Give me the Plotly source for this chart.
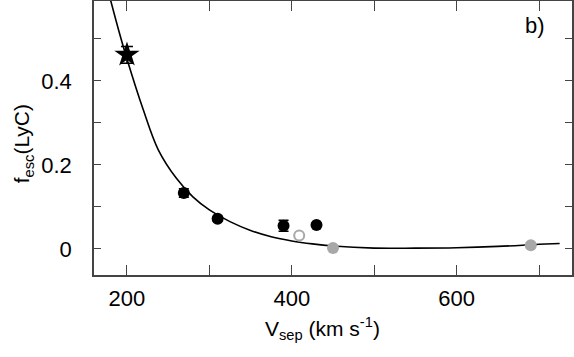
import plotly.graph_objects as go

# measured points (V_sep in km/s, f_esc)
star_v = [200]
star_f = [0.462]
star_err = [0.02]

black_v = [269, 310, 390, 430]
black_f = [0.133, 0.072, 0.055, 0.057]
black_err = [0.010, 0.006, 0.013, 0.004]

open_v = [409]
open_f = [0.032]
open_err = [0.008]

gray_v = [450, 690]
gray_f = [0.002, 0.009]

# fitted relation
fit_v = [180, 190, 200, 220, 238, 260, 280, 300, 325, 350, 375, 400, 425, 450,
         500, 550, 600, 650, 700, 725]
fit_f = [0.593, 0.52, 0.452, 0.33, 0.236, 0.168, 0.124, 0.093, 0.065, 0.044,
         0.029, 0.019, 0.012, 0.007, 0.002, 0.002, 0.003, 0.006, 0.011, 0.013]

x_major = [200, 400, 600]
x_minor = [300, 500, 700]
y_major = [0, 0.2, 0.4]
y_minor = [0.1, 0.3, 0.5]

fig = go.Figure()

fig.add_trace(go.Scatter(x=fit_v, y=fit_f, mode="lines",
                         line=dict(color="black", width=1.6, shape="spline"),
                         showlegend=False))

fig.add_trace(go.Scatter(x=gray_v, y=gray_f, mode="markers",
                         marker=dict(color="#a8a8a8", size=12),
                         showlegend=False))

fig.add_trace(go.Scatter(x=open_v, y=open_f, mode="markers",
                         marker=dict(color="white", size=10, symbol="circle",
                                     line=dict(color="#a8a8a8", width=2)),
                         error_y=dict(type="data", array=open_err, color="#a8a8a8",
                                      thickness=1.2, width=3),
                         showlegend=False))

fig.add_trace(go.Scatter(x=black_v, y=black_f, mode="markers",
                         marker=dict(color="black", size=12),
                         error_y=dict(type="data", array=black_err, color="black",
                                      thickness=1.5, width=5),
                         showlegend=False))

fig.add_trace(go.Scatter(x=star_v, y=star_f, mode="markers",
                         marker=dict(color="black", size=19, symbol="star"),
                         error_y=dict(type="data", array=star_err, color="black",
                                      thickness=1.5, width=6),
                         showlegend=False))

font_name = "Liberation Sans, Arial, sans-serif"
tick_font = dict(family=font_name, size=22, color="black")
title_font = dict(family=font_name, size=21, color="black")

fig.update_xaxes(range=[160, 740], tickvals=x_major, ticktext=[str(v) for v in x_major],
                 ticks="inside", ticklen=10, tickwidth=1.2, tickcolor="#444",
                 minor=dict(tickvals=x_minor, ticks="inside", ticklen=10,
                            tickwidth=1.2, tickcolor="#444", showgrid=False),
                 showline=True, linecolor="#444", linewidth=1.5, mirror="ticks",
                 showgrid=False, zeroline=False, tickfont=tick_font,
                 ticklabelstandoff=3, automargin=False)
fig.update_yaxes(range=[-0.062, 0.59], tickvals=y_major, ticktext=["0", "0.2", "0.4"],
                 ticks="inside", ticklen=7, tickwidth=1.2, tickcolor="#444",
                 minor=dict(tickvals=y_minor, ticks="inside", ticklen=7,
                            tickwidth=1.2, tickcolor="#444", showgrid=False),
                 showline=True, linecolor="#444", linewidth=1.5, mirror="ticks",
                 showgrid=False, zeroline=False, tickfont=tick_font,
                 ticklabelstandoff=16, automargin=False)

# axis titles
fig.add_annotation(x=0.354, y=-0.135, xref="paper", yref="paper",
                   text="V<sub>sep</sub> (km s<sup>-1</sup>)", showarrow=False,
                   xanchor="left", yanchor="top", font=title_font)
fig.add_annotation(x=-0.148, y=0.478, xref="paper", yref="paper",
                   text="f<sub>esc</sub>(LyC)", showarrow=False, textangle=-90,
                   xanchor="center", yanchor="middle", font=title_font)

fig.add_annotation(x=0.948, y=0.965, xref="paper", yref="paper", text="b)",
                   showarrow=False, xanchor="right", yanchor="top",
                   font=dict(family=font_name, size=22, color="black"))

fig.update_layout(width=574, height=357, plot_bgcolor="white", paper_bgcolor="white",
                  margin=dict(l=94, r=2, t=1, b=82))

fig.write_html("out.html", config={"displayModeBar": False},
               post_script="document.body.style.margin='0';")
